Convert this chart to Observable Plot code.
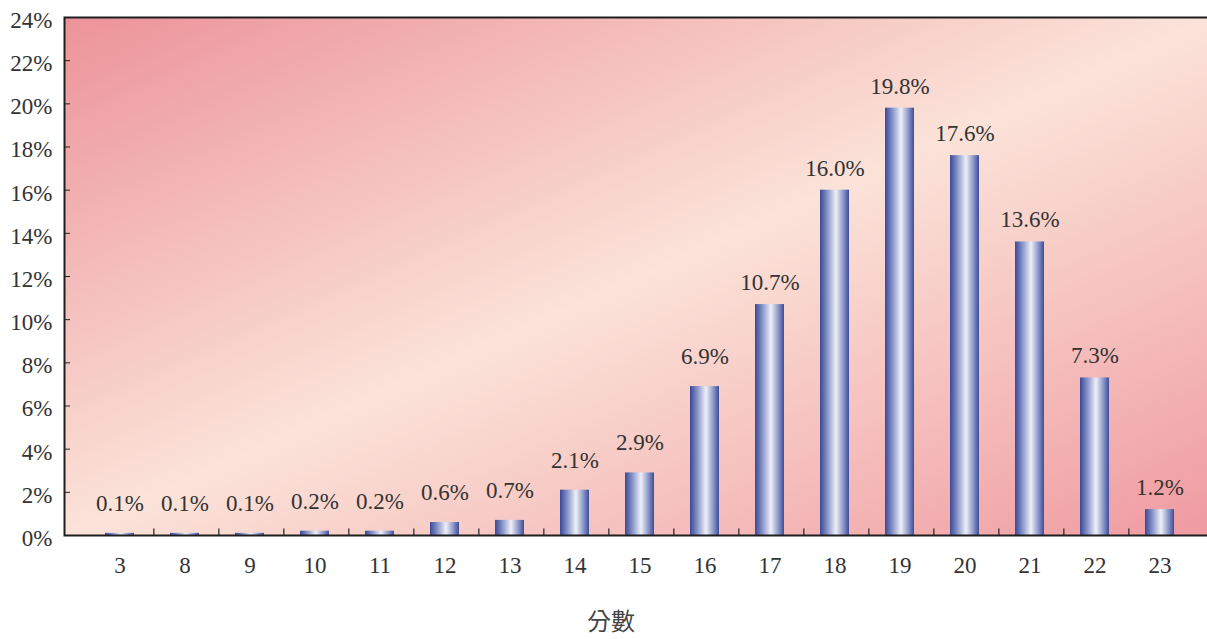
<!DOCTYPE html>
<html>
<head>
<meta charset="utf-8">
<script src="https://cdn.jsdelivr.net/npm/d3@7"></script>
<script src="https://cdn.jsdelivr.net/npm/@observablehq/plot@0.6"></script>
<style>
  html, body { margin: 0; padding: 0; background: #fff; overflow: hidden; }
  #chart svg { overflow: hidden; display: block; }
  #chart svg text { font-family: "Liberation Serif", "Times New Roman", "DejaVu Serif", serif !important; }
</style>
</head>
<body>
<div id="chart"></div>
<script>
const scores = ["3","8","9","10","11","12","13","14","15","16","17","18","19","20","21","22","23"];
const percents = [0.1,0.1,0.1,0.2,0.2,0.6,0.7,2.1,2.9,6.9,10.7,16.0,19.8,17.6,13.6,7.3,1.2];
const yTicks = [0,2,4,6,8,10,12,14,16,18,20,22,24];
const xLabel = "分數";

const data = scores.map((s, i) => ({score: s, pct: percents[i], label: percents[i].toFixed(1) + "%"}));
const bandStep = (1215 - 64) / scores.length;

const plot = Plot.plot({
  width: 1207,
  height: 639,
  marginTop: 17,
  marginBottom: 104,
  marginLeft: 64,
  marginRight: -8,
  style: {fontSize: "23px", color: "#333", background: "transparent"},
  x: {domain: scores, padding: 0.56, label: null},
  y: {domain: [0, 24], label: null},
  marks: [
    Plot.frame({fill: "url(#bgGrad)", stroke: "none"}),
    Plot.barY(data, {x: "score", y: "pct", fill: "url(#barGrad)"}),
    Plot.text(data, {
      x: "score", y: "pct", text: "label",
      fill: "#333", fontSize: 23,
      filter: d => +d.score <= 16, dy: -30
    }),
    Plot.text(data, {
      x: "score", y: "pct", text: "label",
      fill: "#333", fontSize: 23,
      filter: d => +d.score > 16, dy: -22
    }),
    Plot.ruleX(scores.slice(0, -1), {x: d => d, dx: bandStep / 2, y1: 0, y2: 0.3, stroke: "#222", strokeWidth: 1.2}),
    Plot.axisX({tickSize: 0, tickPadding: 21, fontSize: 23, fill: "#333"}),
    Plot.axisY({ticks: yTicks, tickSize: -6, tickFormat: () => "", stroke: "#222"}),
    Plot.axisY({ticks: yTicks, tickSize: 0, tickPadding: 12, dy: 3, tickFormat: d => d + "%", fontSize: 23, fill: "#333"}),
    Plot.frame({fill: "none", stroke: "#1e1e1e", strokeWidth: 2}),
    Plot.text([xLabel], {frameAnchor: "bottom", text: d => d, dy: 94, dx: -29, fontSize: 24, fill: "#444"})
  ]
});

const svg = d3.select(plot);
const defs = svg.insert("defs", ":first-child");
const bg = defs.append("linearGradient").attr("id", "bgGrad")
  .attr("x1", 0).attr("y1", 0).attr("x2", 1).attr("y2", 1);
bg.append("stop").attr("offset", "0%").attr("stop-color", "#ec9399");
bg.append("stop").attr("offset", "50%").attr("stop-color", "#fbe3d9");
bg.append("stop").attr("offset", "100%").attr("stop-color", "#ef9aa0");
const bar = defs.append("linearGradient").attr("id", "barGrad")
  .attr("x1", 0).attr("y1", 0).attr("x2", 1).attr("y2", 0);
bar.append("stop").attr("offset", "0%").attr("stop-color", "#3a4898");
bar.append("stop").attr("offset", "22%").attr("stop-color", "#7b89c2");
bar.append("stop").attr("offset", "55%").attr("stop-color", "#eef0f8");
bar.append("stop").attr("offset", "80%").attr("stop-color", "#8e99c9");
bar.append("stop").attr("offset", "100%").attr("stop-color", "#3d4c99");

svg.selectAll("text").filter(function() { return this.textContent === xLabel; })
  .attr("style", "font-family: 'Noto Sans CJK TC', 'Noto Sans CJK SC', sans-serif !important");

document.getElementById("chart").appendChild(plot);
</script>
</body>
</html>
